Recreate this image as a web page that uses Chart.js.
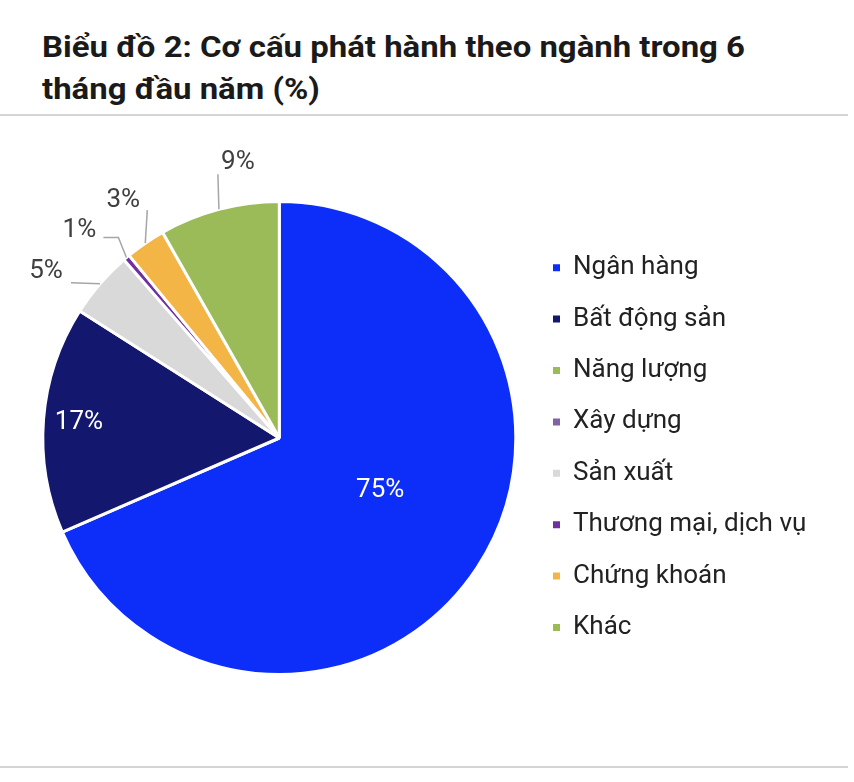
<!DOCTYPE html>
<html>
<head>
<meta charset="utf-8">
<script src="https://cdn.jsdelivr.net/npm/chart.js@4/dist/chart.umd.min.js"></script>
<style>
  html, body { margin: 0; padding: 0; background: #fff; }
  body { width: 854px; height: 782px; position: relative; overflow: hidden; font-family: Roboto, sans-serif; }
  .title {
    position: absolute; left: 42px; top: 26px;
    font: bold 29px/42px Roboto, sans-serif; color: #1a1a1a;
    white-space: nowrap; transform-origin: left top;
  }
  .rule { position: absolute; left: 0; width: 848px; height: 2px; background: #d4d4d4; }
  #wrap { position: absolute; left: 0; top: 120px; width: 854px; height: 640px; }
</style>
</head>
<body>
<div class="title" id="title">Biểu đồ 2: Cơ cấu phát hành theo ngành trong 6<br>tháng đầu năm (%)</div>
<div class="rule" style="top:114px"></div>
<div class="rule" style="top:766px"></div>
<div id="wrap"><canvas id="pie"></canvas></div>
<script>
const sectors = ['Ngân hàng', 'Bất động sản', 'Năng lượng', 'Xây dựng', 'Sản xuất',
                 'Thương mại, dịch vụ', 'Chứng khoán', 'Khác'];
const shares = [75, 17, 0, 0, 5, 0.5, 3, 9];
const colors = ['#0d2ef9', '#14176e', '#9bbb59', '#8064a2', '#d9d9d9',
                '#7030a0', '#f4b547', '#9bbb59'];

// fit the title to the width it has in the picture
const title = document.getElementById('title');
title.style.transform = 'scaleX(' + (703 / title.getBoundingClientRect().width) + ')';

const legendFont = 26;
const legendPad = 51.4 - legendFont;
const boxSize = 7;

// legend width (chart.js adds 10px), so the chart area ends where the legend starts
const mctx = document.createElement('canvas').getContext('2d');
mctx.font = legendFont + 'px Roboto';
const widest = Math.max(...sectors.map(s => mctx.measureText(s).width));
const legendWidth = legendPad + boxSize + legendFont / 2 + widest + 10;
const legendLeft = 553 - legendPad;

// label placement for each slice (style only)
const labelStyle = {
  0: {inside: 0.48, turn: -6},
  1: {inside: 0.85, turn: 0},
  4: {path: [[-29, -1]], text: [-54, -12]},
  5: {path: [[-8, -20], [-23, -20]], text: [-47, -27]},
  6: {path: [[2, -33]], text: [-22, -43]},
  7: {path: [[-1, -35]], text: [19, -47]}
};

const pieLabels = {
  id: 'pieLabels',
  afterDatasetsDraw(chart) {
    const ctx = chart.ctx;
    const arcs = chart.getDatasetMeta(0).data;
    ctx.save();
    ctx.font = '26px Roboto';
    ctx.textAlign = 'center';
    ctx.textBaseline = 'middle';
    arcs.forEach((arc, i) => {
      const v = shares[i];
      const st = labelStyle[i];
      if (!v || !st) return;
      let mid = (arc.startAngle + arc.endAngle) / 2;
      const txt = Math.round(v) + '%';
      if (st.inside) {
        mid += st.turn * Math.PI / 180;
        const r = arc.outerRadius * st.inside;
        ctx.fillStyle = '#ffffff';
        ctx.fillText(txt, arc.x + Math.cos(mid) * r, arc.y + Math.sin(mid) * r);
        return;
      }
      const ex = arc.x + Math.cos(mid) * arc.outerRadius;
      const ey = arc.y + Math.sin(mid) * arc.outerRadius;
      ctx.strokeStyle = '#a6a6a6';
      ctx.lineWidth = 1.5;
      ctx.beginPath();
      ctx.moveTo(ex, ey);
      st.path.forEach(p => ctx.lineTo(ex + p[0], ey + p[1]));
      ctx.stroke();
      ctx.fillStyle = '#404040';
      ctx.fillText(txt, ex + st.text[0], ey + st.text[1]);
    });
    ctx.restore();
  }
};

new Chart(document.getElementById('pie'), {
  type: 'pie',
  data: {
    labels: sectors,
    datasets: [{
      data: shares,
      backgroundColor: colors,
      borderColor: '#ffffff',
      borderWidth: 3,
      hoverOffset: 0,
      offset: 0
    }]
  },
  options: {
    responsive: true,
    maintainAspectRatio: false,
    animation: false,
    events: [],
    layout: {
      padding: {left: 31, top: 80, bottom: 84, right: 854 - legendLeft - legendWidth}
    },
    plugins: {
      tooltip: {enabled: false},
      legend: {
        position: 'right',
        align: 'center',
        title: {display: true, text: ' ', font: {size: 16}, padding: 0},
        labels: {
          usePointStyle: true,
          pointStyle: 'rect',
          boxWidth: boxSize,
          boxHeight: boxSize,
          padding: legendPad,
          color: '#222222',
          font: {family: 'Roboto', size: legendFont},
          generateLabels: chart =>
            Chart.overrides.pie.plugins.legend.labels.generateLabels(chart)
              .map(l => Object.assign(l, {lineWidth: 0}))
        }
      }
    }
  },
  plugins: [pieLabels]
});
</script>
</body>
</html>
